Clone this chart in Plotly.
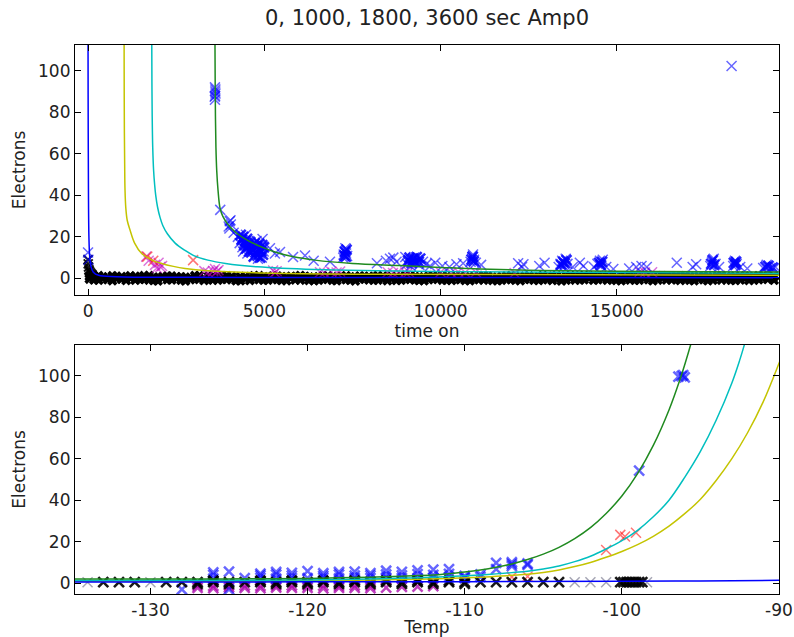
import plotly.graph_objects as go

# ---------------- data: top panel (time on) ----------------
band_t = [40, 170, 300, 420, 560, 690, 810, 950, 1080, 1200,
          1340, 1470, 1590, 1730, 1860, 1980, 2120, 2250, 2370, 2510,
          2640, 2760, 2900, 3030, 3150, 3290, 3420, 3540, 3680, 3810,
          3930, 4070, 4200, 4320, 4460, 4590, 4710, 4850, 4980, 5100,
          5240, 5370, 5490, 5630, 5760, 5880, 6020, 6150, 6270, 6410,
          6540, 6660, 6800, 6930, 7050, 7190, 7320, 7440, 7580, 7710,
          7830, 7970, 8100, 8220, 8360, 8490, 8610, 8750, 8880, 9000,
          9140, 9270, 9390, 9530, 9660, 9780, 9920, 10050, 10170, 10310,
          10440, 10560, 10700, 10830, 10950, 11090, 11220, 11340, 11480, 11610,
          11730, 11870, 12000, 12120, 12260, 12390, 12510, 12650, 12780, 12900,
          13040, 13170, 13290, 13430, 13560, 13680, 13820, 13950, 14070, 14210,
          14340, 14460, 14600, 14730, 14850, 14990, 15120, 15240, 15380, 15510,
          15630, 15770, 15900, 16020, 16160, 16290, 16410, 16550, 16680, 16800,
          16940, 17070, 17190, 17330, 17460, 17580, 17720, 17850, 17970, 18110,
          18240, 18360, 18500, 18630, 18750, 18890, 19020, 19140, 19280, 19460]
band_e = [0.9, -0.7, 1.3, -0.2, 0.5, -1.1, 1.0, -0.4, 0.2, 1.2,
          -0.9, 0.6, -0.3, 1.4, -1.0, 0.3, 0.9, -0.6, 1.1, -0.1,
          0.7, -1.2, 0.4, 1.3, -0.5, 0.0, 1.0, -0.8, 0.6, -0.3,
          1.2, -0.6, 0.2, -1.1, 0.9, 0.4, -0.2, 1.3, -0.9, 0.5,
          -0.4, 1.1, -1.0, 0.7, 0.1, -0.7, 1.4, -0.2, 0.6, -1.1,
          0.8, -0.3, 1.2, -0.9, 0.3, 1.0, -0.6, 0.5, -1.2, 1.1,
          -0.1, 0.9, -0.8, 1.3, -0.4, 0.2, 1.0, -1.0, 0.6, -0.3,
          1.2, -0.7, 0.4, -1.1, 1.0, 0.0, -0.5, 1.3, -0.9, 0.7,
          -0.2, 1.1, -1.0, 0.5, 0.9, -0.6, 1.4, -0.3, 0.2, -1.1,
          0.8, -0.4, 1.2, -0.8, 0.3, 1.0, -0.2, 0.6, -1.0, 1.3,
          -0.6, 0.4, 1.1, -1.2, 0.7, -0.1, 0.9, -0.7, 1.3, 0.0,
          -0.9, 1.0, -0.3, 0.6, 1.2, -1.0, 0.2, -0.5, 1.1, -0.8,
          0.5, -0.2, 1.3, -1.1, 0.8, 0.1, -0.7, 1.0, -0.4, 0.6,
          1.2, -0.9, 0.3, -0.3, 1.1, -1.1, 0.7, 0.0, 1.3, -0.6,
          0.4, -1.0, 1.0, -0.2, 0.8, -0.8, 1.2, 0.1, -0.5, 0.9]
band_e2 = [-0.3, 1.1, -0.9, 0.8, -0.6, 1.2, -0.2, 0.9, -1.0, 0.1,
           1.0, -0.5, 1.3, -0.8, 0.6, -1.2, 0.2, 1.1, -0.7, 0.8,
           -0.9, 0.5, -0.6, 0.0, 1.2, -1.0, -0.3, 1.1, -0.9, 1.0,
           -0.5, 0.9, -1.1, 0.8, -0.3, -1.0, 1.2, -0.6, 0.7, -0.9,
           1.1, -0.6, 0.8, -1.1, 1.0, 0.6, -0.8, 1.0, -1.0, 0.4,
           -0.9, 1.1, -0.5, 0.7, -1.1, -0.2, 1.2, -0.9, 0.8, -0.4,
           1.0, -0.7, 0.9, -0.8, 1.1, -1.1, -0.3, 0.8, -0.9, 1.2,
           -0.5, 0.9, -1.0, 0.8, -0.6, 1.2, 0.9, -0.8, 0.7, -1.0,
           1.0, -0.6, 0.8, -1.1, -0.4, 1.0, -0.8, 1.1, -1.0, 0.6,
           -0.9, 1.1, -0.6, 0.9, -1.1, -0.5, 1.1, -0.9, 0.8, -0.5,
           1.0, -1.0, -0.4, 0.8, -0.9, 1.2, -0.8, 1.0, -0.6, 1.1,
           0.8, -0.6, 1.1, -0.9, -0.4, 0.9, -1.1, 1.0, -0.7, 0.9,
           -0.9, 1.0, -0.6, 0.9, -0.8, 1.2, 0.8, -0.7, 1.1, -1.0,
           -0.5, 0.9, -1.1, 1.0, -0.6, 0.8, -0.9, 1.1, -0.8, 0.9,
           -0.9, 1.0, -0.7, 1.1, -1.0, 0.8, -0.6, 1.1, 0.9, -0.9]

spike_top = [(0, 9), (5, 7), (15, 5.5), (25, 4.2), (40, 3.5), (60, 2.8), (85, 2.2), (110, 1.8)]

blue_top = [(0, 12.5), (10, 9),
            (3600, 86), (3605, 88), (3610, 90), (3600, 92), (3615, 89), (3595, 87.5), (3612, 91),
            (3750, 33), (3990, 25), (4020, 27.5), (4050, 26), (4010, 24), (4040, 28),
            (4130, 22), (4250, 20), (4300, 17), (4350, 19), (4380, 15), (4400, 13),
            (4420, 17), (4450, 14), (4480, 21), (4500, 16), (4520, 12), (4560, 18),
            (4600, 14), (4650, 16), (4720, 11), (4750, 15), (4780, 18), (4800, 13),
            (4820, 9.5), (4850, 17), (4870, 12), (4900, 15), (4930, 10), (4950, 19),
            (4980, 13), (5160, 14.5), (5300, 12), (5445, 12.7), (5815, 10.3),
            (6154, 11), (6400, 8.5), (6863, 8), (7240, 10), (7250, 11.5), (7280, 13),
            (7300, 14.5), (7320, 12), (7350, 10.8),
            (8195, 7.3), (8450, 8.5), (8565, 9.5), (8660, 10), (8750, 8), (9000, 10.3),
            (9050, 7), (9100, 9), (9150, 6), (9200, 8.5), (9250, 10), (9300, 7.5),
            (9350, 9), (9400, 6.5), (9500, 8), (9600, 7), (9700, 6), (9850, 7.5),
            (10050, 6), (10250, 5.5), (10450, 6.8), (10640, 7.3), (10850, 8),
            (10900, 10), (10920, 11.5), (10950, 9), (11000, 7.5), (11150, 6.5),
            (12200, 7.3), (12310, 5.5), (12350, 6.8), (12800, 6), (12950, 7.5),
            (13350, 5.5), (13400, 7), (13450, 8.5), (13500, 6), (13550, 9.5),
            (13600, 7), (13750, 5.5), (13950, 7.5), (14050, 6), (14350, 5.5),
            (14450, 7), (14520, 8.5), (14560, 6), (14600, 9), (14700, 5.5),
            (14900, 4.5), (15350, 4.8), (15550, 5.5), (15700, 6), (15850, 5.5),
            (16700, 7.5), (17150, 5.5), (17250, 6.8), (17650, 6), (17700, 8),
            (17750, 9.5), (17800, 7), (17900, 5.5), (18300, 6), (18350, 8.5),
            (18400, 7), (18500, 5.5), (18700, 4.8), (19150, 5), (19250, 6.5),
            (19350, 5), (19500, 5.5), (18255, 102.3)]

# dense blue clumps (many overlapping readings)
blue_clumps = [(4330, 21), (4360, 18.5), (4400, 20), (4430, 16), (4460, 18), (4490, 14.5),
               (4510, 19), (4540, 15.5), (4570, 13), (4600, 17.5), (4630, 12.5), (4680, 14),
               (4700, 10.5), (4730, 17), (4760, 12.5), (4790, 15.5), (4810, 11), (4840, 14),
               (4860, 16.5), (4880, 10), (4910, 13), (4940, 16), (4960, 11.5), (4990, 15),
               (7270, 11), (7290, 12.8), (7310, 10.5), (7330, 13.8),
               (9080, 8.5), (9120, 10), (9180, 7.5), (9220, 9.5), (9270, 8), (9320, 10.2),
               (9380, 8), (9420, 9.5), (10880, 9), (10910, 10.5), (10940, 8.2),
               (13420, 6.5), (13480, 8), (13520, 7.2), (13570, 8.8), (14500, 7.5), (14540, 6.5),
               (14580, 8), (17680, 7), (17720, 8.8), (17760, 6.5), (18320, 7.5), (18360, 6.5),
               (18380, 8), (19220, 5.5), (19300, 6), (19420, 5.2)]

mag_t = [1650, 1720, 1900, 1950, 2000, 2050, 2100, 3300, 3400, 3550, 3600, 3650, 3700,
         5250, 5300, 5350, 6580, 6700, 6900, 7050, 7150, 8500, 8650, 8800, 9000, 9100,
         10000, 10300, 10500, 10700, 11000, 12100, 15650, 15800, 16000]
mag_e = [10.5, 8.5, 6.5, 5, 7.5, 5.5, 6, 3.5, 2.8, 3.5, 4.5, 3.2, 4,
         3.8, 2.8, 3.4, 3, 2.7, 3.2, 2.8, 3.3, 3, 2.6, 3.2, 2.8, 3.1,
         3, 2.7, 3.2, 2.8, 3, 2.6, 3.2, 2.8, 3]

red_top = [(1680, 10.5), (1850, 8.5), (2980, 8.8)]

# fitted curves
curve_blue_top = [(0, 130), (0, 112.5), (5, 70), (12, 40), (25, 20), (45, 11), (80, 6),
                  (150, 3), (300, 1.5), (800, 0.8), (3000, 0.5), (19600, 0.3)]
curve_yellow_top = [(1019, 130), (1023, 112.5), (1026, 90), (1031, 70), (1039, 55),
                    (1049, 42.5), (1071, 34), (1111, 28), (1191, 23.3), (1321, 17),
                    (1521, 12), (1771, 9.2), (2089, 7.2), (2421, 5.8), (2751, 4.8),
                    (3403, 3.7), (5021, 2.6), (8021, 2.0), (19600, 1.5)]
curve_cyan_top = [(1804, 130), (1808, 112.5), (1812, 95), (1820, 78), (1835, 63), (1860, 52),
                  (1890, 45), (1920, 40), (1970, 34.5), (2040, 29.5), (2120, 25.5),
                  (2250, 21.5), (2470, 17), (2750, 13.5), (3000, 11), (3400, 8.8),
                  (3900, 7.2), (4800, 5.6), (6440, 4.3), (9800, 3.3), (19600, 2.4)]
curve_green_top = [(3598, 130), (3601, 112.5), (3606, 95), (3614, 78), (3628, 63), (3650, 52),
                   (3687, 42.5), (3743, 34), (3820, 30), (3970, 26), (4200, 22), (4540, 18.2),
                   (4900, 15.3), (5300, 12.7), (5800, 10.5), (6438, 8.8), (7500, 7.2),
                   (8849, 6.2), (10000, 5.3), (11117, 4.5), (12819, 3.8), (15000, 3.4),
                   (17500, 3.2), (19600, 3.1)]

# ---------------- data: bottom panel (Temp) ----------------
black_bot = [(-133, 0.5), (-132, 0.5), (-131, 0.5), (-129, 0.5), (-128, 0.5), (-127, 0.5),
             (-126, 0.5), (-125, 0.5), (-124, 0.5), (-123, 0.5), (-122, 0.5), (-121, 0.5),
             (-120, 0.5), (-119, 0.5), (-118, 0.5), (-117, 0.5), (-116, 0.5), (-115, 0.5),
             (-114, 0.5), (-113, 0.5), (-112, 0.5), (-111, 0.5), (-110, 0.5), (-109, 0.5),
             (-108, 0.5), (-107, 0.5), (-106, 0.5), (-105, 0.5), (-104, 0.5),
             (-100.1, 0.5), (-99.9, 0.5), (-99.7, 0.5), (-99.5, 0.5), (-99.3, 0.5),
             (-99.1, 0.5), (-98.9, 0.5), (-98.7, 0.5),
             (-127, -0.3), (-126, 1.2), (-125, -0.3), (-123, 1.2), (-122, -0.3), (-121, 1.2),
             (-120, -0.3), (-119, 1.2), (-118, -0.3), (-117, 1.2), (-116, -0.3), (-115, 1.2),
             (-114, -0.3), (-113, 1.2), (-112, -0.3), (-111, 1.2), (-110, -0.3)]
grey_bot = [(-134, 0.5), (-130, 0.5), (-103, 0.5), (-102, 0.5), (-101, 0.5), (-98.4, 0.5)]

blue_bot = [(-128, -3), (-126, 4), (-126, 5.2), (-125, 5.6), (-125, -3), (-123, 3.8), (-123, 4.6),
            (-122, 4.2), (-122, 5.4), (-121, 3.6), (-121, 5), (-120, 5.8), (-119, 3.5),
            (-119, 4.8), (-118, 4.2), (-118, 5.4), (-117, 3.6), (-117, 5.6), (-116, 3.8),
            (-116, 4.9), (-115, 4.2), (-115, 6), (-114, 3.8), (-114, 5.5), (-113, 4.4),
            (-113, 6.2), (-112, 4), (-112, 6.5), (-111, 4.5), (-111, 6.8), (-110, 2.5),
            (-110, 3.5), (-109, 4.2), (-108, 6.8), (-108, 9.8), (-107, 8.2), (-107, 9.2),
            (-107, 10.1), (-106, 8.8), (-106, 9.5),
            (-126, 2.2), (-124, 2.4), (-122, 2.2), (-120, 2.5), (-118, 2.3), (-116, 2.5),
            (-114, 2.4), (-112, 2.6), (-110, 2.8), (-123, 2.6), (-121, 2.4), (-119, 2.6),
            (-117, 2.4), (-115, 2.7), (-113, 2.5), (-111, 2.9), (-109, 3.0),
            (-98.9, 54.3), (-96.4, 99.5), (-96.2, 99.8), (-96.0, 99.2), (-96.1, 100.3)]

mag_bot = [(-127, -2.2), (-126, -2.4), (-125, -2.0), (-124, -2.3), (-123, -2.4), (-122, -2.1),
           (-121, -2.3), (-120, -2.2), (-119, -2.5), (-118, -2.2), (-117, -2.3), (-116, -2.4),
           (-115, -2.1), (-114, -1.8), (-113, -1.6), (-112, -1.4), (-127, -1.2), (-125, -1.0),
           (-123, -1.3), (-121, -1.1), (-119, -1.2), (-117, -1.0), (-126, -1.3), (-124, -1.1),
           (-122, -1.2), (-120, -1.0), (-118, -1.3), (-116, -1.1)]

red_bot = [(-101.0, 16.0), (-100.1, 23.3), (-99.8, 22.5), (-99.1, 24.3), (-107, 3.0), (-106, 3.2)]

curve_blue_bot = [(-134.8, 0.6), (-120, 0.65), (-110, 0.75), (-100, 0.95), (-95, 1.1), (-90, 1.4)]
curve_green_bot = [(-134.8, 2.0), (-128, 2.0), (-124, 2.1), (-120, 2.3), (-118, 2.6), (-116, 2.9),
                   (-114, 3.4), (-112, 3.9), (-111, 4.6), (-110, 5.4), (-109, 6.4), (-108, 7.7),
                   (-107, 9.3), (-106, 11.4), (-105, 14.0), (-104, 17.3), (-103, 21.5),
                   (-102, 26.8), (-101, 33.6), (-100, 42), (-99, 52.8), (-98, 66.4),
                   (-97, 83.5), (-96.3, 98.2), (-96.0, 105.3), (-95.6, 115.5), (-95.2, 126.8)]
curve_cyan_bot = [(-134.8, 1.3), (-125, 1.4), (-120, 1.6), (-116, 2.0), (-113, 2.6), (-111, 3.2),
                  (-109, 4.0), (-108, 4.5), (-107, 5.1), (-106, 5.8), (-105, 6.9), (-104, 8.3),
                  (-103, 10.4), (-102, 13), (-101, 16.5), (-100, 20.5), (-99, 25.5), (-98, 32),
                  (-97, 40), (-96, 51), (-95, 63.5), (-94, 78.5), (-93, 96.5), (-92.5, 107.5),
                  (-92.2, 115), (-91.9, 123)]
curve_yellow_bot = [(-134.8, 0.9), (-125, 1.0), (-120, 1.2), (-116, 1.5), (-113, 1.9), (-111, 2.3),
                    (-109, 2.9), (-108, 3.3), (-107, 3.8), (-106, 4.3), (-105, 5.2), (-104, 6.4),
                    (-103, 8.0), (-102, 10.0), (-101, 12.5), (-100, 15.3), (-99, 18.6),
                    (-98, 22.6), (-97, 27.5), (-96, 33.5), (-95, 40.5), (-94, 49.5), (-93, 60),
                    (-92, 72.5), (-91, 87.5), (-90, 106), (-89.5, 116)]

top_xticks = [0, 5000, 10000, 15000]
top_xtext = ["0", "5000", "10000", "15000"]
y_ticks = [0, 20, 40, 60, 80, 100]
bot_xticks = [-130, -120, -110, -100, -90]
bot_xtext = ["-130", "-120", "-110", "-100", "-90"]

# ---------------- figure ----------------
def xs(pts):
    return [p[0] for p in pts]


def ys(pts):
    return [p[1] for p in pts]


def xmark(x, y, color, size=10, width=1.5, xa="x", ya="y", symbol="x-thin"):
    return go.Scatter(x=x, y=y, mode="markers", xaxis=xa, yaxis=ya, showlegend=False,
                      hoverinfo="skip",
                      marker=dict(symbol=symbol, size=size, color=color,
                                  line=dict(width=width, color=color)))


def curve(pts, color, xa="x", ya="y", width=1.5):
    return go.Scatter(x=xs(pts), y=ys(pts), mode="lines", xaxis=xa, yaxis=ya,
                      showlegend=False, hoverinfo="skip",
                      line=dict(color=color, width=width, shape="spline", smoothing=1.0))


BLACK = "rgba(0,0,0,0.9)"
GREY = "rgba(60,60,90,0.45)"
BLUE = "rgba(0,0,255,0.6)"
BLUE_D = "rgba(0,0,255,0.85)"
MAG = "rgba(191,0,191,0.55)"
MAG_D = "rgba(170,0,170,0.75)"
RED = "rgba(255,0,0,0.55)"
C_BLUE = "#0000ff"
C_GREEN = "#1f8a1f"
C_CYAN = "#00bfbf"
C_YEL = "#c4c400"

fig = go.Figure()
# top panel
fig.add_trace(xmark(band_t, band_e, "black", size=9, width=0, symbol="x"))
fig.add_trace(xmark(band_t, band_e2, "black", size=9, width=0, symbol="x"))
fig.add_trace(xmark(xs(spike_top), ys(spike_top), BLACK, size=9, width=2))
fig.add_trace(xmark(mag_t, mag_e, MAG))
fig.add_trace(xmark(xs(red_top), ys(red_top), RED))
fig.add_trace(xmark(xs(blue_top), ys(blue_top), BLUE))
fig.add_trace(xmark(xs(blue_clumps), ys(blue_clumps), BLUE_D, width=2.5))
fig.add_trace(curve(curve_yellow_top, C_YEL))
fig.add_trace(curve(curve_cyan_top, C_CYAN))
fig.add_trace(curve(curve_green_top, C_GREEN))
fig.add_trace(curve(curve_blue_top, C_BLUE))
# bottom panel
fig.add_trace(xmark(xs(mag_bot), ys(mag_bot), MAG_D, xa="x2", ya="y2", width=2.5))
fig.add_trace(xmark(xs(blue_bot), ys(blue_bot), BLUE, xa="x2", ya="y2", width=2.5))
fig.add_trace(xmark(xs(red_bot), ys(red_bot), RED, xa="x2", ya="y2"))
fig.add_trace(xmark(xs(grey_bot), ys(grey_bot), GREY, xa="x2", ya="y2", width=1.5))
fig.add_trace(xmark(xs(black_bot), ys(black_bot), BLACK, xa="x2", ya="y2", width=2.6))
fig.add_trace(curve(curve_yellow_bot, C_YEL, xa="x2", ya="y2"))
fig.add_trace(curve(curve_cyan_bot, C_CYAN, xa="x2", ya="y2"))
fig.add_trace(curve(curve_green_bot, C_GREEN, xa="x2", ya="y2"))
fig.add_trace(curve(curve_blue_bot, C_BLUE, xa="x2", ya="y2"))

FONT = "DejaVu Sans"
axis_common = dict(showline=True, linecolor="black", linewidth=1.2, mirror="ticks",
                   ticks="inside", ticklen=6, tickcolor="black", tickwidth=1,
                   showgrid=False, zeroline=False, automargin=False,
                   tickfont=dict(family=FONT, size=17, color="#222"))

fig.update_layout(
    width=794, height=637,
    margin=dict(l=75, r=15, t=45, b=43),
    paper_bgcolor="white", plot_bgcolor="white",
    font=dict(family=FONT, color="#222"),
    title=dict(text="0, 1000, 1800, 3600 sec Amp0", x=0.5, xref="paper",
               y=1 - 18 / 637, yref="container", yanchor="middle",
               font=dict(family=FONT, size=21, color="#222")),
    xaxis=dict(domain=[0, 1], range=[-370, 19600], tickvals=top_xticks, ticktext=top_xtext,
               anchor="y",
               title=dict(text="time on", standoff=0, font=dict(family=FONT, size=17)),
               **axis_common),
    yaxis=dict(domain=[0.5446, 1], range=[-8, 112.4], tickvals=y_ticks, anchor="x",
               title=dict(text="Electrons", standoff=8, font=dict(family=FONT, size=17)),
               **axis_common),
    xaxis2=dict(domain=[0, 1], range=[-134.8, -90], tickvals=bot_xticks, ticktext=bot_xtext,
                anchor="y2",
                title=dict(text="Temp", standoff=4, font=dict(family=FONT, size=17)),
                **axis_common),
    yaxis2=dict(domain=[0, 0.4536], range=[-5.2, 114.8], tickvals=y_ticks, anchor="x2",
                title=dict(text="Electrons", standoff=8, font=dict(family=FONT, size=17)),
                **axis_common),
)

fig.write_html("out.html")
